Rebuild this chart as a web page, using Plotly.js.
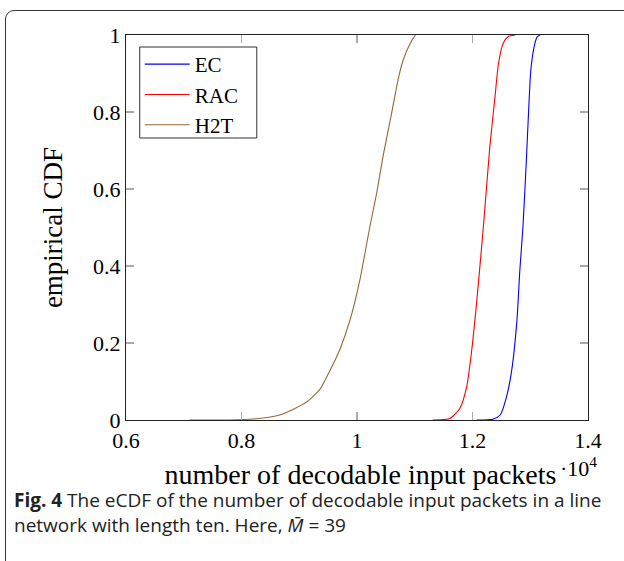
<!DOCTYPE html>
<html>
<head>
<meta charset="utf-8">
<script src="https://cdn.plot.ly/plotly-3.0.1.min.js"></script>
<style>
  html, body { margin: 0; padding: 0; background: #fff; }
  #frame { position: absolute; left: 5px; top: 10px; width: 800px; height: 800px;
           border: 1.4px solid #333; border-top-left-radius: 9px; box-sizing: border-box; }
  #chart { position: absolute; left: 0; top: 0; width: 624px; height: 561px; }
</style>
</head>
<body>
<div id="frame"></div>
<div id="chart"></div>
<script>
// Data (x in units of 10^4 packets)
const seriesNames = ["EC", "RAC", "H2T"];

const ecX  = [1.207, 1.235, 1.248, 1.259, 1.268, 1.277, 1.282, 1.2875, 1.293, 1.297, 1.301, 1.308, 1.312, 1.317];
const ecY  = [0, 0.002, 0.013, 0.061, 0.13, 0.26, 0.39, 0.505, 0.667, 0.797, 0.909, 0.978, 0.995, 1];

const racX = [1.131, 1.15, 1.161, 1.178, 1.19, 1.198, 1.207, 1.219, 1.23, 1.239, 1.245, 1.253, 1.262, 1.274];
const racY = [0, 0.001, 0.004, 0.03, 0.087, 0.173, 0.303, 0.505, 0.71, 0.84, 0.926, 0.978, 0.996, 1];

const h2tX = [0.71, 0.78, 0.83, 0.855, 0.87, 0.89, 0.913, 0.936, 0.953, 0.97, 0.988, 1.005, 1.022, 1.034, 1.045, 1.06, 1.071, 1.08, 1.092, 1.101];
const h2tY = [0, 0, 0.004, 0.009, 0.015, 0.028, 0.047, 0.08, 0.128, 0.182, 0.26, 0.364, 0.5, 0.589, 0.684, 0.797, 0.883, 0.935, 0.978, 1];

const xTickVals = [0.6, 0.8, 1, 1.2, 1.4];
const xTickText = ["0.6", "0.8", "1", "1.2", "1.4"];
const yTickVals = [0, 0.2, 0.4, 0.6, 0.8, 1];
const yTickText = ["0", "0.2", "0.4", "0.6", "0.8", "1"];

const serif = "Liberation Serif, Times New Roman, serif";
const sans = "Open Sans, sans-serif";

const lineStyle = (c) => ({color: c, width: 1.1, shape: "spline", smoothing: 0.6});

const traces = [
  {x: ecX,  y: ecY,  name: seriesNames[0], mode: "lines", line: lineStyle("#0000ff")},
  {x: racX, y: racY, name: seriesNames[1], mode: "lines", line: lineStyle("#ff0000")},
  {x: h2tX, y: h2tY, name: seriesNames[2], mode: "lines", line: lineStyle("#996633")}
];

const layout = {
  width: 624, height: 561,
  margin: {l: 126, r: 36, t: 35, b: 141},
  paper_bgcolor: "rgba(0,0,0,0)",
  plot_bgcolor: "#fff",
  showlegend: true,
  legend: {
    x: 0.0297, y: 0.9766, xanchor: "left", yanchor: "top",
    borderwidth: 0, bgcolor: "rgba(0,0,0,0)",
    font: {family: serif, size: 21, color: "#000"},
    itemwidth: 45, tracegroupgap: 0
  },
  shapes: [
    {type: "rect", xref: "paper", yref: "paper", x0: 0.0297, x1: 0.2831, y0: 0.7325, y1: 0.9688,
     line: {color: "#333", width: 1}, fillcolor: "#fff", layer: "above"}
  ],
  xaxis: {
    range: [0.6, 1.4], tickvals: xTickVals, ticktext: xTickText,
    ticks: "inside", ticklen: 8, tickcolor: "#aaa", tickwidth: 1.2,
    showline: true, linecolor: "#222", linewidth: 1.2, mirror: "ticks",
    showgrid: false, zeroline: false,
    tickfont: {family: serif, size: 22, color: "#000"},
    title: {text: "&nbsp;number of decodable input packets", standoff: 12,
            font: {family: serif, size: 28, color: "#000"}}
  },
  yaxis: {
    range: [0, 1], tickvals: yTickVals, ticktext: yTickText,
    ticks: "inside", ticklen: 8, tickcolor: "#aaa", tickwidth: 1.2,
    showline: true, linecolor: "#222", linewidth: 1.2, mirror: "ticks",
    showgrid: false, zeroline: false,
    tickfont: {family: serif, size: 22, color: "#000"},
    title: {text: "empirical CDF", standoff: 22,
            font: {family: serif, size: 27, color: "#000"}}
  },
  annotations: [
    {xref: "paper", yref: "paper", x: 0.935, y: -0.122, xanchor: "left", yanchor: "middle",
     showarrow: false, text: "·10<sup>4</sup>", font: {family: serif, size: 22, color: "#000"}},
    {xref: "paper", yref: "paper", x: -0.247, y: -0.2078, xanchor: "left", yanchor: "middle",
     showarrow: false, align: "left",
     text: "<b>Fig. 4</b> The eCDF of the number of decodable input packets in a line",
     font: {family: sans, size: 19, color: "#222"}},
    {xref: "paper", yref: "paper", x: -0.247, y: -0.2727, xanchor: "left", yanchor: "middle",
     showarrow: false, align: "left",
     text: "network with length ten. Here, <i>M̄</i> = 39",
     font: {family: sans, size: 19, color: "#222"}}
  ]
};

Plotly.newPlot("chart", traces, layout, {displayModeBar: false, staticPlot: true});
</script>
</body>
</html>
